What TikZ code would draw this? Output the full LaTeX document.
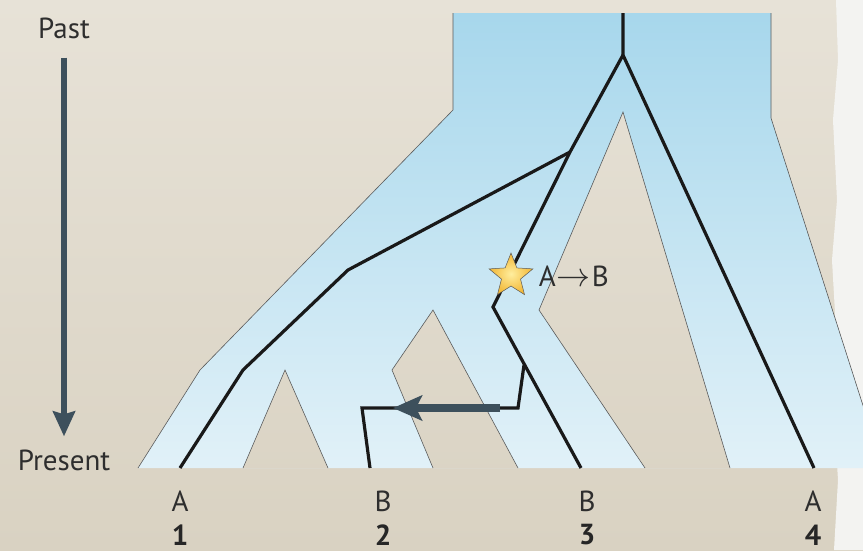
\documentclass[tikz,border=0pt]{standalone}
\usepackage{fontspec}
\setmainfont{PT Sans}
\usepackage{tikz}
\usetikzlibrary{shapes.geometric, arrows.meta, positioning}
\definecolor{bgtop}{HTML}{E7E2D7}
\definecolor{bgbot}{HTML}{D9D2C2}
\definecolor{paper}{HTML}{F3F3F1}
\definecolor{sptop}{HTML}{A7D7EC}
\definecolor{spbot}{HTML}{E1F1F8}
\definecolor{spdraw}{HTML}{5A5A5A}
\definecolor{arrdraw}{HTML}{3D505C}
\definecolor{starin}{HTML}{FFEE9E}
\definecolor{starout}{HTML}{F2B634}
\definecolor{txt}{HTML}{2E2E2E}
\newcommand{\mutarrow}{\resizebox{34pt}{!}{$\rightarrow$}}
\tikzset{
  lbl/.style={font=\fontsize{29}{32}\selectfont, text=txt, inner sep=2pt},
  num/.style={font=\fontsize{29}{32}\selectfont\bfseries, text=black!85, inner sep=0pt},
  spedge/.style={draw=spdraw, line width=0.6pt, line join=miter},
  gene/.style={draw=black!90, line width=3.2pt, line join=miter},
  timearr/.style={-{Stealth[length=25pt, width=22pt, inset=3pt]}, draw=arrdraw, line width=6pt},
  migarr/.style={-{Stealth[length=29pt, width=25pt, inset=6pt]}, draw=arrdraw, line width=8pt},
  mutstar/.style={star, star points=5, star point ratio=2.3, minimum size=46pt, inner sep=0pt, draw=black!65, line width=0.5pt, inner color=starin, outer color=starout},
}

\begin{document}
\begin{tikzpicture}[x=1pt, y=-1pt]
  \useasboundingbox (0,0) rectangle (863,550);
  \clip (0,0) rectangle (863,550);
  \shade[top color=bgtop, bottom color=bgbot] (0,0) rectangle (863,550);
  \fill[paper] (836,0) -- (838,60) -- (833,120) -- (837,200) -- (832,260) -- (836,330)
    -- (833,400) -- (838,480) -- (834,550) -- (863,550) -- (863,0) -- cycle;

  \shade[top color=sptop, bottom color=spbot, even odd rule]
    (138,468) -- (200,370) -- (453,110) -- (453,13) -- (771,13) -- (771,118) -- (883,468) -- cycle
    (243,468) -- (285,370) -- (328,468) -- cycle
    (433,468) -- (392,370) -- (433,310) -- (518,468) -- cycle
    (645,468) -- (539,310) -- (623,112) -- (730,468) -- cycle;
  \draw[spedge] (138,468) -- (200,370) -- (453,110) -- (453,13);
  \draw[spedge] (771,13) -- (771,118) -- (883,468);
  \draw[spedge] (243,468) -- (285,370) -- (328,468);
  \draw[spedge] (433,468) -- (392,370) -- (433,310) -- (518,468);
  \draw[spedge] (645,468) -- (539,310) -- (623,112) -- (730,468);

  \coordinate (root) at (623,13);
  \coordinate (r) at (623,55);
  \coordinate (a) at (570,152);
  \coordinate (b) at (348,270);
  \coordinate (c) at (243,370);
  \coordinate (d) at (493,307);
  \coordinate (m) at (524,365);
  \coordinate (m2) at (518,408);
  \coordinate (m3) at (362,408);
  \coordinate (t1) at (180,468);
  \coordinate (t2) at (370,468);
  \coordinate (t3) at (581,468);
  \coordinate (t4) at (814,468);
  \draw[gene] (root) -- (r) -- (t4);
  \draw[gene] (r) -- (a) -- (d) -- (t3);
  \draw[gene] (a) -- (b) -- (c) -- (t1);
  \draw[gene] (m) -- (m2) -- (m3) -- (t2);

  \coordinate (migfrom) at (500,408);
  \coordinate (migto) at (393,408);
  \draw[migarr] (migfrom) -- (migto);

  \node[mutstar] (star) at (511,276) {};
  \node[lbl, right=12pt of star] (mut) {A\hspace{1pt}\mutarrow\hspace{1pt}B};

  \node[lbl] (past) at (64,28) {Past};
  \node[lbl] (present) at (64,460) {Present};
  \draw[timearr, shorten <=17pt, shorten >=11pt] (past) -- (present);

  \node[lbl] (s1) at (180,501) {A};
  \node[lbl] (s2) at (383,501) {B};
  \node[lbl] (s3) at (587,501) {B};
  \node[lbl] (s4) at (813,501) {A};
  \node[num] (n1) at (180,535) {1};
  \node[num] (n2) at (383,535) {2};
  \node[num] (n3) at (587,535) {3};
  \node[num] (n4) at (813,535) {4};
\end{tikzpicture}
\end{document}
